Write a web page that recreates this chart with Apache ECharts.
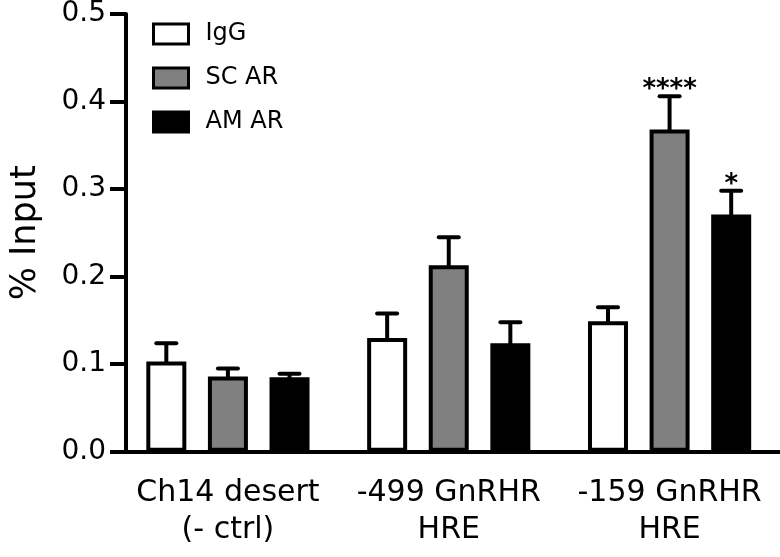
<!DOCTYPE html>
<html>
<head>
    <meta charset="UTF-8"/>
    <title>% Input</title>
    <style>
        html, body{
            margin: 0;
        }
    </style>
    <script src="https://cdn.jsdelivr.net/npm/echarts@6/dist/echarts.min.js"></script>
</head>
<body>
<div id="container" style="width: 780px;height: 557px;"></div>

<script>
  // data
  var categories = ['Ch14 desert\n(- ctrl)', '-499 GnRHR\nHRE', '-159 GnRHR\nHRE'];
  var seriesNames = ['IgG', 'SC AR', 'AM AR'];
  var igg = [0.103, 0.130, 0.149];
  var iggTop = [0.124, 0.158, 0.165];     // upper end of error bar
  var scAr = [0.086, 0.213, 0.368];
  var scArTop = [0.095, 0.245, 0.406];
  var amAr = [0.085, 0.124, 0.271];
  var amArTop = [0.089, 0.148, 0.298];
  var scStars = ['', '', '****'];
  var amStars = ['', '', '*'];
  var yTicks = [0, 0.1, 0.2, 0.3, 0.4, 0.5];

  var FONT = 'DejaVu Sans';
  var barW = 40;
  var barGap = 0.54;
  var fills = ['#ffffff', '#808080', '#000000'];

  var dom = document.getElementById("container");
  var myChart = echarts.init(dom);

  function errSeries(idx, means, tops, stars) {
      var data = [];
      for (var i = 0; i < means.length; i++) {
          data.push([i, means[i], tops[i], stars ? stars[i] : '']);
      }
      return {
          type: 'custom',
          name: seriesNames[idx],
          data: data,
          z: 5,
          silent: true,
          renderItem: function (params, api) {
              var off = (idx - 1) * barW * (1 + barGap);
              var base = api.coord([api.value(0), api.value(1)]);
              var top = api.coord([api.value(0), api.value(2)]);
              var x = base[0] + off;
              var children = [
                  {type: 'line', shape: {x1: x, y1: base[1] + 3, x2: x, y2: top[1]},
                   style: {stroke: '#000', lineWidth: 4}},
                  {type: 'line', shape: {x1: x - 10, y1: top[1], x2: x + 10, y2: top[1]},
                   style: {stroke: '#000', lineWidth: 4, lineCap: 'round'}}
              ];
              var s = api.value(3);
              if (s) {
                  children.push({type: 'text', x: x, y: top[1] - 6,
                      style: {text: s, fill: '#000', font: 'bold 26px ' + FONT,
                              textAlign: 'center', textVerticalAlign: 'middle'}});
              }
              return {type: 'group', children: children};
          }
      };
  }

  function barSeries(idx, values) {
      return {
          type: 'bar',
          name: seriesNames[idx],
          data: values,
          barWidth: barW,
          barGap: (barGap * 100) + '%',
          itemStyle: {color: fills[idx], borderColor: '#000', borderWidth: 4}
      };
  }

  var option = {
      animation: false,
      backgroundColor: '#fff',
      grid: {left: 111.5, top: 14, width: 675, bottom: 105.3},
      legend: {
          orient: 'vertical',
          left: 152,
          top: 22,
          padding: 0,
          itemWidth: 35,
          itemHeight: 20,
          itemGap: 20,
          icon: 'rect',
          data: seriesNames,
          itemStyle: {borderColor: '#000', borderWidth: 3},
          textStyle: {fontFamily: FONT, fontSize: 24, color: '#000', padding: [0, 0, 0, 12], lineHeight: 20}
      },
      xAxis: {
          type: 'category',
          data: categories,
          axisLine: {lineStyle: {color: '#000', width: 4}},
          axisTick: {alignWithLabel: true, length: 18, lineStyle: {color: '#000', width: 4}},
          axisLabel: {fontFamily: FONT, fontSize: 30, color: '#000', lineHeight: 37, margin: 23, interval: 0}
      },
      yAxis: {
          type: 'value',
          min: yTicks[0],
          max: yTicks[yTicks.length - 1],
          interval: 0.1,
          offset: -8.5,
          name: '% Input',
          nameLocation: 'middle',
          nameGap: 83,
          nameTextStyle: {fontFamily: FONT, fontSize: 35, color: '#000'},
          axisLine: {show: true, lineStyle: {color: '#000', width: 4}},
          axisTick: {show: true, length: 16, lineStyle: {color: '#000', width: 4}},
          splitLine: {show: false},
          axisLabel: {fontFamily: FONT, fontSize: 28, color: '#000', margin: 20,
                      formatter: function (v) { return v.toFixed(1); }}
      },
      series: [
          barSeries(0, igg),
          barSeries(1, scAr),
          barSeries(2, amAr),
          errSeries(0, igg, iggTop, null),
          errSeries(1, scAr, scArTop, scStars),
          errSeries(2, amAr, amArTop, amStars)
      ]
  };
  myChart.setOption(option);
</script>

</body>
</html>
